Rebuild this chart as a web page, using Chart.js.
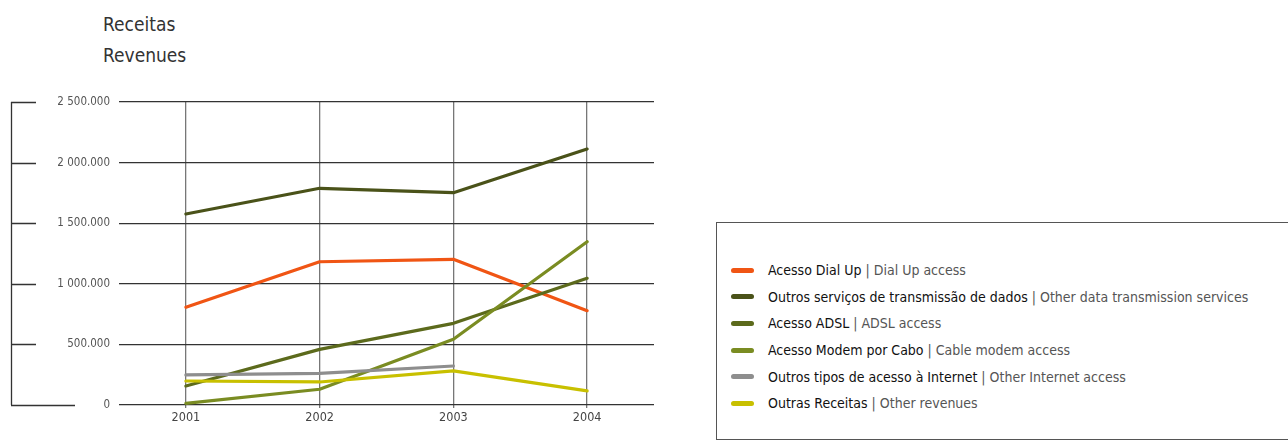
<!DOCTYPE html>
<html lang="pt">
<head>
<meta charset="UTF-8">
<title>Receitas</title>
<style>
  body { margin: 0; background: #fff; width: 1288px; height: 445px; overflow: hidden; position: relative;
         font-family: 'Liberation Sans Narrow', 'DejaVu Sans Condensed', sans-serif; color: #333; }
  .titulo { position: absolute; left: 103px; top: 9px; font-size: 19px; line-height: 31px; color: #333; }
  #grafico { position: absolute; left: 0; top: 0; }
  .legenda { position: absolute; left: 716px; top: 222px; width: 600px; height: 218px; border: 1px solid #555; box-sizing: border-box; }
  .legenda ul { list-style: none; margin: 0; padding: 34px 0 0 14px; }
  .legenda li { height: 26.7px; line-height: 26.7px; font-size: 14px; color: #555; white-space: nowrap; }
  .legenda li b { font-weight: normal; color: #111; }
  .legenda .amostra { display: inline-block; width: 23px; height: 5px; border-radius: 3px; vertical-align: middle; margin: 0 14px 2px 0; }
</style>
</head>
<body>
<div class="titulo">Receitas<br>Revenues</div>
<canvas id="grafico" width="700" height="445"></canvas>
<div class="legenda"><ul id="lista"></ul></div>

<script src="https://cdn.jsdelivr.net/npm/chart.js"></script>
<script>
  // dados
  var anos = ['2001', '2002', '2003', '2004'];
  var dialUp = [806000, 1182000, 1202000, 778000];
  var outrosServicos = [1576000, 1788000, 1752000, 2112000];
  var adsl = [157000, 459000, 674000, 1045000];
  var modemCabo = [14000, 130000, 542000, 1347000];
  var outrosAcessos = [248000, 261000, 322000, null];
  var outrasReceitas = [198000, 190000, 281000, 116000];
  var nomesPt = ['Acesso Dial Up', 'Outros serviços de transmissão de dados', 'Acesso ADSL', 'Acesso Modem por Cabo', 'Outros tipos de acesso à Internet', 'Outras Receitas'];
  var nomesEn = ['Dial Up access', 'Other data transmission services', 'ADSL access', 'Cable modem access', 'Other Internet access', 'Other revenues'];
  var cores = ['#f05514', '#4a5219', '#5c6a1c', '#7a8c22', '#8e8e8e', '#c8c000'];
  var series = [dialUp, outrosServicos, adsl, modemCabo, outrosAcessos, outrasReceitas];

  var fonte = "'Liberation Sans Narrow', 'DejaVu Sans Condensed', sans-serif";

  var datasets = [];
  for (var i = 0; i < series.length; i++) {
    datasets.push({
      label: nomesPt[i],
      data: series[i],
      borderColor: cores[i],
      backgroundColor: cores[i],
      borderWidth: 3.2,
      borderCapStyle: 'round',
      borderJoinStyle: 'round',
      pointRadius: 0,
      tension: 0,
      order: series.length - i
    });
  }

  // legenda em html
  var lista = document.getElementById('lista');
  for (var i = 0; i < nomesPt.length; i++) {
    var li = document.createElement('li');
    li.innerHTML = '<span class="amostra" style="background:' + cores[i] + '"></span><b>' + nomesPt[i] + '</b> | ' + nomesEn[i];
    lista.appendChild(li);
  }

  function formatar(v) {
    if (v == 0) return '0';
    var mil = v / 1000;
    var milhoes = Math.floor(mil / 1000);
    var resto = String(mil % 1000).padStart(3, '0');
    return (milhoes > 0 ? milhoes + ' ' + resto : String(mil)) + '.000';
  }

  // eixo decorativo da esquerda
  var eixoEsquerda = {
    id: 'eixoEsquerda',
    afterDraw: function (chart) {
      var c = chart.ctx;
      var y = chart.scales.y;
      c.save();
      c.strokeStyle = '#333';
      c.lineWidth = 1.3;
      c.beginPath();
      c.moveTo(11.5, y.getPixelForValue(2500000));
      c.lineTo(11.5, y.getPixelForValue(0));
      y.ticks.forEach(function (t) {
        var p = Math.round(y.getPixelForValue(t.value)) + 0.5;
        c.moveTo(11, p);
        c.lineTo(t.value == 0 ? 75 : 36, p);
      });
      c.stroke();
      c.restore();
    }
  };

  new Chart(document.getElementById('grafico'), {
    type: 'line',
    data: { labels: anos, datasets: datasets },
    plugins: [eixoEsquerda],
    options: {
      responsive: false,
      animation: false,
      layout: { padding: { top: 102, right: 46, left: 0, bottom: 0 } },
      plugins: { legend: { display: false }, tooltip: { enabled: false } },
      scales: {
        x: {
          offset: true,
          grid: { offset: false, color: '#777', lineWidth: 1.3, tickLength: 3 },
          border: { display: false },
          ticks: { color: '#444', font: { family: fonte, size: 12.5 }, padding: 2 },
          afterFit: function (s) { s.height = 40; }
        },
        y: {
          min: 0,
          max: 2500000,
          grid: { color: '#333', lineWidth: 1.3, drawTicks: false },
          border: { display: false },
          ticks: { stepSize: 500000, color: '#555', font: { family: fonte, size: 11.5 }, padding: 9, callback: formatar },
          afterFit: function (s) { s.width = 119; }
        }
      }
    }
  });
</script>
</body>
</html>
